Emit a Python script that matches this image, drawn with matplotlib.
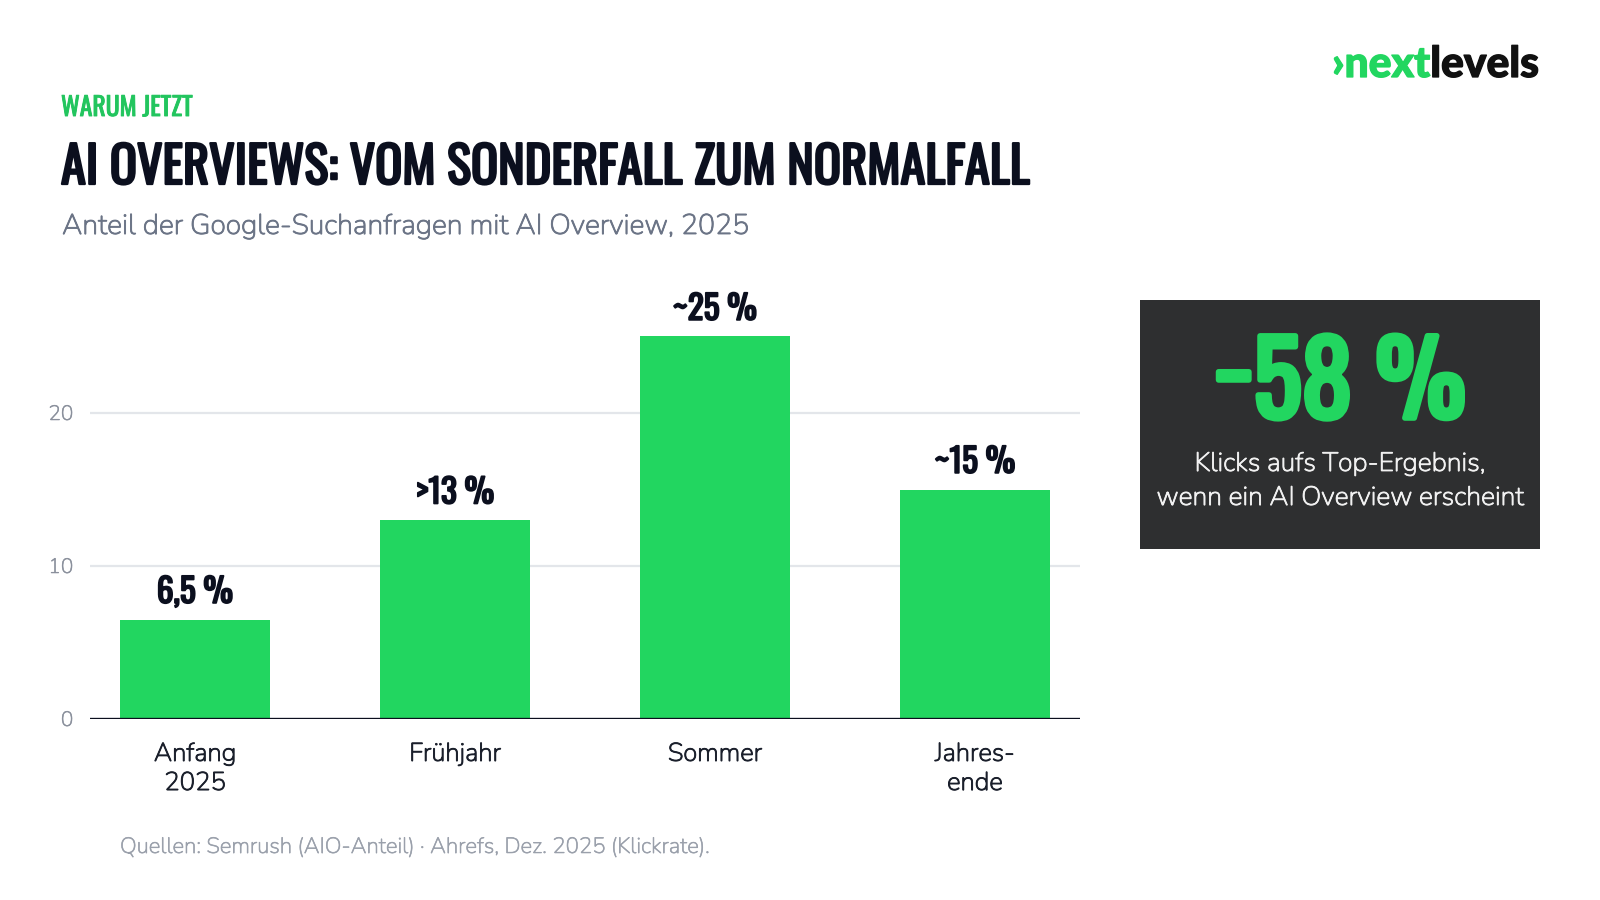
import matplotlib
matplotlib.use("Agg")
import matplotlib.pyplot as plt
from matplotlib import font_manager as fm
from matplotlib.patches import Rectangle
import matplotlib.patheffects as pe

# ---------------- data ----------------
categories = ["Anfang\n2025", "Frühjahr", "Sommer", "Jahres-\nende"]
values = [6.5, 13, 25, 15]
bar_labels = ["6,5 %", ">13 %", "~25 %", "~15 %"]
y_ticks = [0, 10, 20]

kicker = "WARUM JETZT"
title = "AI OVERVIEWS: VOM SONDERFALL ZUM NORMALFALL"
subtitle = "Anteil der Google-Suchanfragen mit AI Overview, 2025"
source = "Quellen: Semrush (AIO-Anteil) · Ahrefs, Dez. 2025 (Klickrate)."
kpi_value = "−58 %"
kpi_text = ["Klicks aufs Top-Ergebnis,", "wenn ein AI Overview erscheint"]

# ---------------- styling ----------------
GREEN = "#22d660"
GREEN_DARK = "#22c55e"
NAVY = "#0b0f1e"
SLATE = "#6b7486"
GREY = "#9aa0ab"
BOX = "#2e2f30"

names = {f.name for f in fm.fontManager.ttflist}

def pick(*cands):
    for c in cands:
        if c in names:
            return c
    return "DejaVu Sans"

COND = pick("Oswald", "Fjalla One", "Roboto Condensed", "Liberation Sans Narrow")
BODY = pick("Nunito", "Lato", "Inter", "Open Sans")
LOGO = pick("Lato", "Inter", "DejaVu Sans")

W, H = 1600, 900
fig = plt.figure(figsize=(16, 9), dpi=100)
fig.patch.set_facecolor("white")
renderer = fig.canvas.get_renderer()

def fx(x):
    return x / W

def fy(y):
    return 1 - y / H

def fit(t, width_px):
    for _ in range(4):
        w = t.get_window_extent(renderer).width
        if w <= 0:
            break
        t.set_fontsize(t.get_fontsize() * width_px / w)
    return t

def embolden(t, frac):
    """thicken variable-font default weight with a same-colour outline"""
    lw = t.get_fontsize() * frac
    t.set_path_effects([pe.withStroke(linewidth=lw, foreground=t.get_color())])
    return t

# ---------------- axes ----------------
ax_left, ax_right, ax_bottom = 90, 1080, 719
px_per_unit = 15.3
ymax = 28
ax_top = ax_bottom - ymax * px_per_unit
ax = fig.add_axes([fx(ax_left), fy(ax_bottom), (ax_right - ax_left) / W, (ax_bottom - ax_top) / H])
ax.set_facecolor("none")

x = list(range(len(categories)))
ax.bar(x, values, width=0.577, color=GREEN, zorder=2)
ax.set_xlim(-0.404, len(categories) - 1 + 0.404)
ax.set_ylim(0, ymax)
ax.set_yticks(y_ticks)
ax.set_yticklabels([str(v) for v in y_ticks])
ax.set_xticks(x)
ax.set_xticklabels(categories, fontfamily=BODY, fontsize=18.5, color="#1a1f2b", linespacing=1.27)
for s in ax.spines.values():
    s.set_visible(False)
ax.tick_params(axis="both", length=0)
ax.tick_params(axis="y", pad=12, labelsize=15, labelcolor="#8a909c")
ax.tick_params(axis="x", pad=16.5)
for lab in ax.get_yticklabels():
    lab.set_fontfamily(BODY)
    embolden(lab, 0.025)
for lab in ax.get_xticklabels():
    embolden(lab, 0.035)
for v in y_ticks[1:]:
    ax.axhline(v, color="#e3e6ea", lw=1.6, zorder=1)
ax.axhline(0, color=NAVY, lw=2.4, zorder=3)

for xi, v, lab in zip(x, values, bar_labels):
    ax.annotate(lab, (xi, v), xytext=(0, 12), textcoords="offset points",
                ha="center", va="baseline", fontfamily=COND,
                fontweight="bold", fontsize=22, color=NAVY, annotation_clip=False)

fig.canvas.draw()
lab_texts = list(ax.texts)
if lab_texts:
    w = lab_texts[2].get_window_extent(renderer).width
    s = lab_texts[2].get_fontsize() * 84 / w
    for t in lab_texts:
        t.set_fontsize(s)
        embolden(t, 0.055)

# ---------------- header texts ----------------
t = fig.text(fx(61), fy(116), kicker, ha="left", va="baseline", color=GREEN_DARK,
             fontfamily=COND, fontweight="bold", fontsize=18.5)
embolden(t, 0.035)
t = fig.text(fx(61), fy(184), title, ha="left", va="baseline", color=NAVY,
             fontfamily=COND, fontweight="bold", fontsize=30)
fit(t, 968)
embolden(t, 0.045)
t = fig.text(fx(62), fy(234), subtitle, ha="left", va="baseline", color=SLATE,
             fontfamily=BODY, fontsize=18)
fit(t, 687)
embolden(t, 0.03)
t = fig.text(fx(120), fy(853), source, ha="left", va="baseline", color=GREY,
             fontfamily=BODY, fontsize=14)
fit(t, 590)
embolden(t, 0.025)

# ---------------- logo ----------------
t1 = fig.text(fx(1332), fy(77), "›next", ha="left", va="baseline", color=GREEN,
              fontfamily=LOGO, fontweight="black", fontsize=30)
fig.canvas.draw()
bb = t1.get_window_extent(renderer)
t2 = fig.text(bb.x1 / W, fy(77), "levels", ha="left", va="baseline", color="#111111",
              fontfamily=LOGO, fontweight="black", fontsize=30)
bb2 = t2.get_window_extent(renderer)
scale = 206 / (bb2.x1 - bb.x0)
t1.set_fontsize(30 * scale)
t2.set_fontsize(30 * scale)
bb = t1.get_window_extent(renderer)
t2.set_x(bb.x1 / W)
embolden(t1, 0.03)
embolden(t2, 0.03)

# ---------------- KPI box ----------------
fig.add_artist(Rectangle((fx(1140), fy(549)), 400 / W, 249 / H, transform=fig.transFigure,
                         facecolor=BOX, edgecolor="none", zorder=0))
t = fig.text(fx(1340), fy(418), kpi_value, ha="center", va="baseline", color=GREEN,
             fontfamily=COND, fontweight="bold", fontsize=80)
fit(t, 252)
embolden(t, 0.055)
t_a = fig.text(fx(1340), fy(471), kpi_text[0], ha="center", va="baseline", color="#f2f2f2",
               fontfamily=BODY, fontsize=17)
t_b = fig.text(fx(1340), fy(505), kpi_text[1], ha="center", va="baseline", color="#f2f2f2",
               fontfamily=BODY, fontsize=17)
fit(t_b, 367)
t_a.set_fontsize(t_b.get_fontsize())
embolden(t_a, 0.03)
embolden(t_b, 0.03)

fig.savefig("out.png", dpi=100, facecolor="white")
